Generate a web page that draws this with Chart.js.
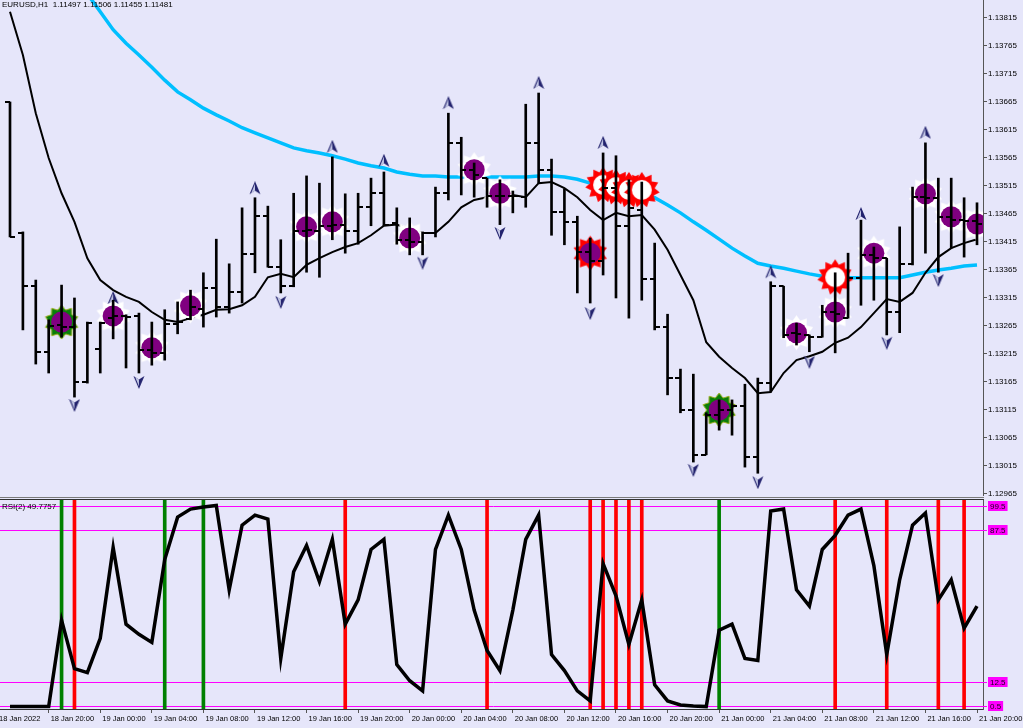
<!DOCTYPE html>
<html><head><meta charset="utf-8">
<script src="https://cdn.jsdelivr.net/npm/chart.js@4.4.1/dist/chart.umd.min.js"></script>
<style>
html,body{margin:0;padding:0;background:#e6e6fa;overflow:hidden;}
#wrap{position:relative;width:1023px;height:728px;background:#e6e6fa;}
#cA{position:absolute;left:0;top:0;}
#cB{position:absolute;left:0;top:500px;}
.sep1{position:absolute;left:0;top:497px;width:984px;height:1px;background:#7a7a7a;}
.sep2{position:absolute;left:0;top:499px;width:984px;height:1px;background:#303030;}
</style></head><body>
<div id="wrap">
<canvas id="cA" width="1023" height="496"></canvas>
<div class="sep1"></div><div class="sep2"></div>
<canvas id="cB" width="1023" height="228"></canvas>
</div>
<script>
// ---------- DATA ----------
const titleText = "EURUSD,H1  1.11497 1.11506 1.11455 1.11481";
const rsiTitle = "RSI(2) 49.7757";
const tickIdx = [-1,3,7,11,15,19,23,27,31,35,39,43,47,51,55,59,63,67,71,75];
const tickLabels = ["18 Jan 2022","18 Jan 20:00","19 Jan 00:00","19 Jan 04:00","19 Jan 08:00","19 Jan 12:00","19 Jan 16:00","19 Jan 20:00","20 Jan 00:00","20 Jan 04:00","20 Jan 08:00","20 Jan 12:00","20 Jan 16:00","20 Jan 20:00","21 Jan 00:00","21 Jan 04:00","21 Jan 08:00","21 Jan 12:00","21 Jan 16:00","21 Jan 20:00"];
const priceTicks = [1.13815,1.13765,1.13715,1.13665,1.13615,1.13565,1.13515,1.13465,1.13415,1.13365,1.13315,1.13265,1.13215,1.13165,1.13115,1.13065,1.13015,1.12965];

const open = [1.13665,1.13431,1.13336,1.13219,1.13267,1.13263,1.13165,1.13224,1.13279,1.13283,
1.13283,1.13222,1.13217,1.13269,1.13277,1.13295,1.13333,1.13299,1.13326,1.13394,
1.13461,1.13370,1.13336,1.13435,1.13435,1.13444,1.13446,1.13435,1.13477,1.13502,
1.13448,1.13419,1.13415,1.13431,1.13502,1.13592,1.13544,1.13529,1.13497,1.13497,
1.13495,1.13592,1.13544,1.13469,1.13451,1.13397,1.13381,1.13511,1.13444,1.13472,
1.13349,1.13263,1.13172,1.13115,1.13035,1.13106,1.13115,1.13122,1.13031,1.13163,
1.13336,1.13253,1.13249,1.13245,1.13290,1.13279,1.13351,1.13392,1.13386,1.13290,
1.13376,1.13495,1.13494,1.13460,1.13454,1.13453];
const high = [1.13665,1.13433,1.13347,1.13276,1.13338,1.13315,1.13272,1.13272,1.13311,1.13285,
1.13288,1.13272,1.13294,1.13308,1.13329,1.13360,1.13420,1.13376,1.13476,1.13494,
1.13479,1.13419,1.13502,1.13533,1.13520,1.13567,1.13501,1.13502,1.13529,1.13540,
1.13476,1.13458,1.13433,1.13513,1.13645,1.13602,1.13556,1.13529,1.13526,1.13506,
1.13661,1.13681,1.13563,1.13510,1.13461,1.13422,1.13574,1.13569,1.13526,1.13522,
1.13413,1.13286,1.13188,1.13179,1.13110,1.13133,1.13133,1.13161,1.13172,1.13344,
1.13336,1.13270,1.13249,1.13302,1.13360,1.13395,1.13454,1.13406,1.13386,1.13442,
1.13513,1.13592,1.13529,1.13529,1.13494,1.13485];
const low = [1.13424,1.13258,1.13197,1.13181,1.13245,1.13138,1.13163,1.13181,1.13242,1.13190,
1.13181,1.13195,1.13204,1.13251,1.13276,1.13263,1.13281,1.13288,1.13306,1.13360,
1.13370,1.13324,1.13335,1.13361,1.13352,1.13419,1.13395,1.13411,1.13444,1.13444,
1.13411,1.13392,1.13392,1.13424,1.13490,1.13499,1.13495,1.13477,1.13446,1.13467,
1.13477,1.13520,1.13427,1.13410,1.13324,1.13306,1.13356,1.13315,1.13279,1.13311,
1.13258,1.13142,1.13110,1.13022,1.13035,1.13079,1.13070,1.13013,1.13002,1.13147,
1.13244,1.13231,1.13219,1.13245,1.13217,1.13279,1.13302,1.13311,1.13249,1.13253,
1.13374,1.13395,1.13361,1.13404,1.13388,1.13410];
const close = [1.13424,1.13336,1.13219,1.13265,1.13263,1.13165,1.13270,1.13270,1.13283,1.13281,
1.13222,1.13217,1.13269,1.13272,1.13299,1.13333,1.13299,1.13326,1.13394,1.13461,
1.13370,1.13336,1.13435,1.13437,1.13444,1.13446,1.13435,1.13477,1.13502,1.13446,
1.13419,1.13415,1.13431,1.13502,1.13592,1.13544,1.13535,1.13497,1.13497,1.13497,
1.13592,1.13544,1.13469,1.13451,1.13397,1.13381,1.13511,1.13444,1.13476,1.13349,
1.13263,1.13172,1.13115,1.13035,1.13106,1.13115,1.13122,1.13031,1.13163,1.13336,
1.13249,1.13251,1.13245,1.13290,1.13286,1.13351,1.13392,1.13386,1.13290,1.13376,
1.13495,1.13494,1.13460,1.13454,1.13453,1.13447];

const maBlack = [1.13826,1.13749,1.13645,1.13565,1.13502,1.13451,1.13386,1.13347,1.13329,1.13317,
1.13308,1.13290,1.13276,1.13272,1.13279,1.13285,1.13294,1.13295,1.13302,1.13317,
1.13352,1.13358,1.13352,1.13374,1.13386,1.13397,1.13406,1.13413,1.13427,1.13444,
1.13446,1.13437,1.13431,1.13431,1.13451,1.13477,1.13490,1.13495,1.13502,1.13499,
1.13495,1.13520,1.13522,1.13511,1.13495,1.13472,1.13454,1.13467,1.13461,1.13463,
1.13437,1.13401,1.13356,1.13311,1.13236,1.13210,1.13190,1.13172,1.13145,1.13147,
1.13181,1.13204,1.13211,1.13219,1.13235,1.13244,1.13263,1.13288,1.13313,1.13308,
1.13324,1.13360,1.13388,1.13404,1.13413,1.13420];
const maBlue = [null,null,null,null,null,1.13887,1.13858,1.13826,1.13794,1.13770,
1.13749,1.13727,1.13704,1.13683,1.13669,1.13654,1.13642,1.13631,1.13619,1.13610,
1.13601,1.13592,1.13583,1.13578,1.13574,1.13569,1.13563,1.13556,1.13551,1.13547,
1.13540,1.13536,1.13533,1.13533,1.13531,1.13531,1.13531,1.13531,1.13531,1.13531,
1.13531,1.13533,1.13533,1.13531,1.13527,1.13520,1.13515,1.13511,1.13506,1.13501,
1.13494,1.13481,1.13467,1.13451,1.13436,1.13420,1.13404,1.13390,1.13377,1.13372,
1.13368,1.13363,1.13358,1.13354,1.13353,1.13351,1.13351,1.13351,1.13351,1.13351,
1.13356,1.13361,1.13365,1.13368,1.13372,1.13374];

const rsi = [0.3,0.3,0.3,0.3,43,19,17,34,79,41,
36,32,73,94,98,99,99.8,58,90,95,
93,24,67,80,62,83,41,53,78,83,
21,13,8,78,95,78,48,28,18,48,
83,95,26,18,8,3,71,55,31,53,
11,3,1,0.5,0.2,38,41,24,23,97,
98,58,50,78,85,95,98,70,26,63,
90,96,53,63,39,50];

const dotIdx = [4,8,11,14,23,25,31,36,38,45,55,61,64,67,71,73,75];
const dotVal = [1.13272,1.13283,1.13226,1.13301,1.13442,1.13451,1.13422,1.13544,1.13502,1.13395,1.13115,1.13253,1.13290,1.13395,1.13501,1.13460,1.13447];
const dotStar = ['g','w','w','w','w','w','w','w','w','r','g','w','w','w','w','w','w'];
const hollowIdx = [46,47,48,49,64];
const hollowVal = [1.13517,1.13513,1.13508,1.13508,1.13352];
const upIdx = [8,19,25,29,34,41,46,59,66,71];
const upVal = [1.13315,1.13511,1.13585,1.13560,1.13663,1.13699,1.13592,1.13361,1.13465,1.13610];
const downIdx = [5,10,21,32,38,45,53,58,62,68,72];
const downVal = [1.13124,1.13165,1.13308,1.13378,1.13431,1.13288,1.13008,1.12986,1.13201,1.13235,1.13347];
const greenSig = [4,12,15,55];
const redSig = [5,26,37,45,46,47,48,49,64,68,72,74];
const rsiLevels = [99.5,87.5,12.5,0.5];

// ---------- AXIS SETTINGS ----------
const xMin = -0.7756, xMax = 75.465;
const yMin = 1.129614, yMax = 1.138471;
const rsiMin = -0.99, rsiMax = 102.48;
const FONT = '"Liberation Sans", Arial, sans-serif';

// ---------- MARKER GLYPHS ----------
function starCanvas(n, ro, ri, fill, stroke, hole){
  const s = Math.ceil(ro*2+2), c = document.createElement('canvas'); c.width=s; c.height=s;
  const g = c.getContext('2d'), cx=s/2, cy=s/2;
  g.beginPath();
  for(let k=0;k<2*n;k++){const r=k%2?ri:ro, a=-Math.PI/2+k*Math.PI/n; const px=cx+r*Math.cos(a), py=cy+r*Math.sin(a); if(k) g.lineTo(px,py); else g.moveTo(px,py);}
  g.closePath(); g.fillStyle=fill; g.fill();
  if(stroke){g.strokeStyle=stroke; g.lineWidth=1; g.stroke();}
  if(hole){g.beginPath(); g.arc(cx,cy,hole,0,Math.PI*2); g.fillStyle='#ffffff'; g.fill();}
  return c;
}
function tickCanvas(left){
  const c=document.createElement('canvas'); c.width=10; c.height=2;
  const g=c.getContext('2d'); g.fillStyle='#000'; g.fillRect(left?0:5,0,5,2); return c;
}
function arrowCanvas(up){
  const c=document.createElement('canvas'); c.width=12; c.height=14;
  const g=c.getContext('2d');
  if(!up){g.translate(0,14); g.scale(1,-1);}
  g.beginPath(); g.moveTo(6,0); g.lineTo(11.5,13); g.lineTo(6,9.5); g.lineTo(0.5,13); g.closePath();
  g.fillStyle='#23236e'; g.fill();
  g.beginPath(); g.moveTo(6,2.5); g.lineTo(6,9.5); g.lineTo(2.2,12); g.closePath();
  g.fillStyle='#c4c8e6'; g.fill();
  return c;
}
const stars = {
  w: starCanvas(10,17.5,12.5,'#ffffff'),
  g: starCanvas(10,17,12.5,'#0a7d0a','#9ab020'),
  r: starCanvas(10,17.5,12.5,'#ff0000')
};
const hollowStar = starCanvas(11,18,13,'#ff0000',null,10);
const openTick = tickCanvas(true), closeTick = tickCanvas(false);
const upArrow = arrowCanvas(true), downArrow = arrowCanvas(false);

const xy = (idx, vals) => idx.map((i,k)=>({x:i, y:vals[k]}));
const series = vals => vals.map((v,i)=>({x:i,y:v})).filter(p=>p.y!==null);

function fixY(w){ return function(s){ s.width=w; s.paddingTop=0; s.paddingBottom=0; }; }

// ---------- PRICE CHART ----------
const titlePlugin = {
  id:'titleText',
  afterDraw(chart){
    const g=chart.ctx; g.save(); g.font='8px '+FONT; g.fillStyle='#000'; g.textBaseline='middle'; g.textAlign='left';
    g.fillText(chart.options.plugins.titleText.text, 2, chart.options.plugins.titleText.y); g.restore();
  }
};

new Chart(document.getElementById('cA'), {
  type:'scatter',
  data:{datasets:[
    {type:'bar', data: open.map((o,i)=>({x:i, y:[low[i],high[i]]})), backgroundColor:'#000', barThickness:2, grouped:false, order:0},
    {data: xy(open.map((o,i)=>i), open), pointStyle: openTick, pointRadius:5, order:0},
    {data: xy(close.map((o,i)=>i), close), pointStyle: closeTick, pointRadius:5, order:0},
    {data: xy(upIdx, upVal), pointStyle: upArrow, pointRadius:6, order:1},
    {data: xy(downIdx, downVal), pointStyle: downArrow, pointRadius:6, order:1},
    {data: xy(dotIdx, dotVal), pointStyle:'circle', pointRadius:10.5, backgroundColor:'#800080', borderWidth:0, order:1},
    {data: xy(dotIdx, dotVal), pointStyle: dotStar.map(k=>stars[k]), pointRadius:16, order:2},
    {data: xy(hollowIdx, hollowVal), pointStyle: hollowStar, pointRadius:16, order:2},
    {type:'line', data: series(maBlack), borderColor:'#000', borderWidth:2, pointRadius:0, tension:0, order:3},
    {type:'line', data: series(maBlue), borderColor:'#00bfff', borderWidth:3.5, pointRadius:0, tension:0, order:3}
  ]},
  options:{
    responsive:false, animation:false, devicePixelRatio:1, events:[],
    layout:{padding:0, autoPadding:false},
    plugins:{legend:{display:false}, tooltip:{enabled:false}, titleText:{text:titleText, y:5}},
    scales:{
      x:{type:'linear', min:xMin, max:xMax, display:false, offset:false},
      y:{type:'linear', position:'right', min:yMin, max:yMax,
        afterBuildTicks(s){ s.ticks = priceTicks.map(v=>({value:v})); },
        afterFit: fixY(40),
        ticks:{callback:v=>Number(v).toFixed(5), font:{family:FONT,size:8}, color:'#000', padding:1},
        grid:{drawOnChartArea:false, drawTicks:true, tickLength:4, color:'#555'},
        border:{display:true, color:'#555', width:1}
      }
    }
  },
  plugins:[titlePlugin]
});

// ---------- RSI CHART ----------
const levelPlugin = {
  id:'levels',
  beforeDatasetsDraw(chart){
    const g=chart.ctx, y=chart.scales.y, a=chart.chartArea;
    g.save(); g.strokeStyle='#ff00ff'; g.lineWidth=1;
    rsiLevels.forEach(v=>{const py=Math.round(y.getPixelForValue(v))+0.5; g.beginPath(); g.moveTo(a.left,py); g.lineTo(a.right+4,py); g.stroke();});
    g.restore();
  },
  afterDraw(chart){
    const g=chart.ctx, y=chart.scales.y, a=chart.chartArea;
    g.save(); g.font='8px '+FONT; g.textBaseline='middle'; g.textAlign='left';
    rsiLevels.forEach(v=>{
      const py=Math.round(y.getPixelForValue(v));
      const t=String(v); const w=g.measureText(t).width+4;
      g.fillStyle='#ff00ff'; g.fillRect(a.right+5, py-5, w, 10);
      g.fillStyle='#1a001a'; g.fillText(t, a.right+7, py+0.5);
    });
    g.font='8px '+FONT; g.fillStyle='#000'; g.fillText(rsiTitle, 2, 7);
    g.restore();
  }
};

new Chart(document.getElementById('cB'), {
  type:'scatter',
  data:{datasets:[
    {type:'line', data: series(rsi), borderColor:'#000', borderWidth:3.5, pointRadius:0, tension:0, order:0, clip:4},
    {type:'bar', data: greenSig.map(i=>({x:i, y:[rsiMin, rsiMax]})), backgroundColor:'#008000', barThickness:3, grouped:false, order:2},
    {type:'bar', data: redSig.map(i=>({x:i, y:[rsiMin, rsiMax]})), backgroundColor:'#ff0000', barThickness:3, grouped:false, order:2}
  ]},
  options:{
    responsive:false, animation:false, devicePixelRatio:1, events:[],
    layout:{padding:0, autoPadding:false},
    plugins:{legend:{display:false}, tooltip:{enabled:false}},
    scales:{
      x:{type:'linear', min:xMin, max:xMax, position:'bottom', offset:false,
        afterBuildTicks(s){ s.ticks = tickIdx.map(v=>({value:v})); },
        afterFit(s){ s.height=19; s.paddingLeft=0; s.paddingRight=0; },
        ticks:{callback:v=>tickLabels[tickIdx.indexOf(v)], align:'start', labelOffset:2, padding:1, maxRotation:0, autoSkip:false, font:{family:FONT,size:7.5}, color:'#000'},
        grid:{drawOnChartArea:false, drawTicks:true, tickLength:4, color:'#555', offset:false},
        border:{display:true, color:'#333', width:1}
      },
      y:{type:'linear', position:'right', min:rsiMin, max:rsiMax,
        afterFit: fixY(40),
        ticks:{display:false},
        grid:{display:false},
        border:{display:true, color:'#555', width:1}
      }
    }
  },
  plugins:[levelPlugin]
});
</script>
</body></html>
